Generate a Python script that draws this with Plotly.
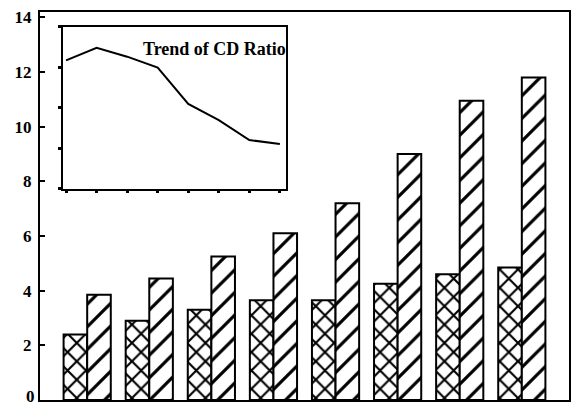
import plotly.graph_objects as go

# Eight periods, two series per period
periods = ["1", "2", "3", "4", "5", "6", "7", "8"]
loans = [2.4, 2.9, 3.3, 3.65, 3.65, 4.25, 4.6, 4.85]
deposits = [3.85, 4.45, 5.25, 6.1, 7.2, 9.0, 10.95, 11.8]

# Credit-to-deposit ratio trend (%)
cd_ratio = [91.7, 94.8, 92.6, 89.9, 80.9, 76.9, 72.0, 71.0]

y_ticks = [0, 2, 4, 6, 8, 10, 12, 14]
y_tick_text = ["", "2", "4", "6", "8", "10", "12", "14"]

serif = "Liberation Serif"
tick_font = dict(family=serif, size=17, color="black", weight="bold")

fig = go.Figure()

fig.add_trace(go.Bar(
    x=periods, y=loans, name="Loans",
    marker=dict(color="white", line=dict(color="black", width=2),
                pattern=dict(shape="x", size=13, solidity=0.3,
                             fgcolor="black", fgopacity=1, bgcolor="white")),
    xaxis="x", yaxis="y",
))
fig.add_trace(go.Bar(
    x=periods, y=deposits, name="Deposits",
    marker=dict(color="white", line=dict(color="black", width=2),
                pattern=dict(shape="/", size=16, solidity=0.2,
                             fgcolor="black", fgopacity=1, bgcolor="white")),
    xaxis="x", yaxis="y",
))

fig.add_trace(go.Scatter(
    x=list(range(len(cd_ratio))), y=cd_ratio, mode="lines",
    line=dict(color="black", width=2),
    xaxis="x2", yaxis="y2", showlegend=False,
))

fig.add_annotation(
    xref="x2 domain", yref="y2 domain", x=1.01, y=0.86,
    xanchor="right", yanchor="middle", showarrow=False,
    text="Trend of CD Ratio",
    font=dict(family=serif, size=18, color="black", weight="bold"),
)

# Origin label sits at the very bottom edge, kept inside the page
fig.add_annotation(
    xref="paper", yref="paper", x=0, y=0,
    xanchor="right", yanchor="bottom", xshift=-3, yshift=-8,
    showarrow=False, text="0", font=tick_font,
)

fig.update_layout(
    width=572, height=408,
    margin=dict(l=40, r=3, t=12, b=8, autoexpand=False),
    paper_bgcolor="white", plot_bgcolor="white",
    showlegend=False,
    barmode="group", bargap=0.24, bargroupgap=0,
    xaxis=dict(
        type="category", range=[-0.76, 7.76],
        showticklabels=False, ticks="", showgrid=False, zeroline=False,
        showline=True, linecolor="black", linewidth=2, mirror=True,
    ),
    yaxis=dict(
        range=[0, 14.2], tickvals=y_ticks, ticktext=y_tick_text,
        automargin=False,
        ticks="inside", ticklen=5, tickwidth=1.5, tickcolor="black",
        showgrid=False, zeroline=False,
        showline=True, linecolor="black", linewidth=2, mirror=True,
        tickfont=tick_font, ticklabelstandoff=3,
    ),
    xaxis2=dict(
        domain=[0.0435, 0.465], anchor="y2",
        range=[-0.1, 7.2], tickvals=list(range(8)),
        showticklabels=False, ticks="outside", ticklen=3, tickwidth=2.5,
        tickcolor="black", showgrid=False, zeroline=False,
        showline=True, linecolor="black", linewidth=1.5, mirror=True,
    ),
    yaxis2=dict(
        domain=[0.545, 0.962], anchor="x2",
        range=[60, 100], tickvals=[60, 70, 80, 90, 100],
        showticklabels=False, ticks="outside", ticklen=3, tickwidth=2.5,
        tickcolor="black", showgrid=False, zeroline=False,
        showline=True, linecolor="black", linewidth=1.5, mirror=True,
    ),
)

fig.write_html("out.html")
